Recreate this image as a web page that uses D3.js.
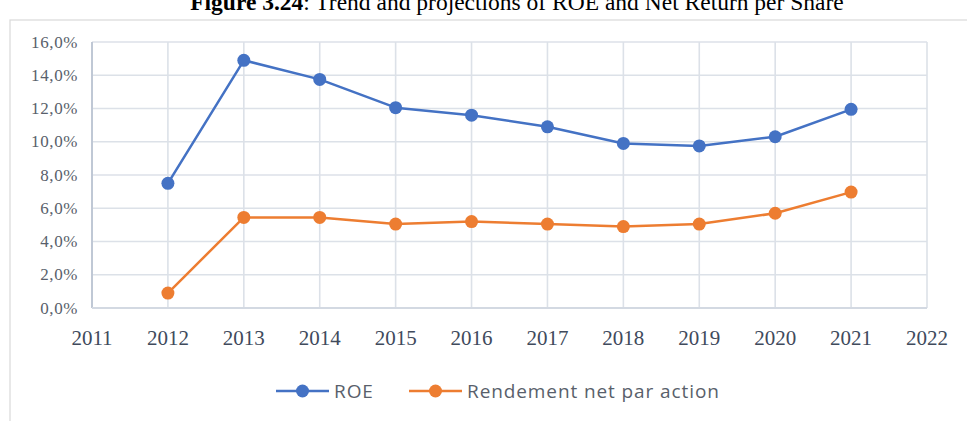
<!DOCTYPE html>
<html>
<head>
<meta charset="utf-8">
<script src="https://cdn.jsdelivr.net/npm/d3@7"></script>
<style>
  body { margin: 0; background: #fff; }
  svg { display: block; }
</style>
</head>
<body>
<script>
// data
var years = [2012, 2013, 2014, 2015, 2016, 2017, 2018, 2019, 2020, 2021];
var roe = [7.5, 14.9, 13.75, 12.05, 11.6, 10.9, 9.9, 9.75, 10.3, 11.95];
var rendement = [0.9, 5.45, 5.45, 5.05, 5.2, 5.05, 4.9, 5.05, 5.7, 6.97];
var yTicks = [0, 2, 4, 6, 8, 10, 12, 14, 16];
var xTicks = [2011, 2012, 2013, 2014, 2015, 2016, 2017, 2018, 2019, 2020, 2021, 2022];
var seriesNames = ["ROE", "Rendement net par action"];

var width = 967, height = 421;
var blue = "#4472C4", orange = "#ED7D31";

var svg = d3.select("body").append("svg")
  .attr("width", width).attr("height", height);

// title, cut off at the top of the picture like in the source
var title = svg.append("text")
  .attr("x", 517).attr("y", 10)
  .attr("text-anchor", "middle")
  .style("font-family", "'Liberation Serif', 'Times New Roman', serif")
  .style("font-size", "23.5px")
  .style("fill", "#000");
title.append("tspan").style("font-weight", "bold").text("Figure 3.24");
title.append("tspan").text(": Trend and projections of ROE and Net Return per Share");

// chart frame
svg.append("rect")
  .attr("x", 10).attr("y", 20)
  .attr("width", 980).attr("height", 420)
  .attr("fill", "none")
  .attr("stroke", "#D9D9D9").attr("stroke-width", 1.2);

var x = d3.scaleLinear().domain([2011, 2022]).range([92, 927]);
var y = d3.scaleLinear().domain([0, 16]).range([308, 42]);

var g = svg.append("g");

// gridlines
g.selectAll(".hgrid").data(yTicks).enter().append("line")
  .attr("x1", x(2011)).attr("x2", x(2022))
  .attr("y1", function(d){ return y(d); }).attr("y2", function(d){ return y(d); })
  .attr("stroke", "#DCE1E8").attr("stroke-width", 1.6);
g.selectAll(".vgrid").data(xTicks).enter().append("line")
  .attr("x1", function(d){ return x(d); }).attr("x2", function(d){ return x(d); })
  .attr("y1", y(16)).attr("y2", y(0))
  .attr("stroke", "#DCE1E8").attr("stroke-width", 1.6);

// axes lines
g.append("line").attr("x1", x(2011)).attr("x2", x(2011)).attr("y1", y(16)).attr("y2", y(0))
  .attr("stroke", "#BCC5D3").attr("stroke-width", 1.8);
g.append("line").attr("x1", x(2011)).attr("x2", x(2022)).attr("y1", y(0)).attr("y2", y(0))
  .attr("stroke", "#D3D9E2").attr("stroke-width", 1.8);

// y tick labels
var fmt = function(d){ return d.toFixed(1).replace(".", ",") + "%"; };
g.selectAll(".ylab").data(yTicks).enter().append("text")
  .attr("x", 78).attr("y", function(d){ return y(d) + 5.5; })
  .attr("text-anchor", "end")
  .style("font-family", "'Liberation Serif', 'DejaVu Serif', serif")
  .style("font-size", "17px")
  .style("letter-spacing", "0.6px")
  .style("fill", "#595F6B")
  .text(fmt);

// x tick labels
g.selectAll(".xlab").data(xTicks).enter().append("text")
  .attr("x", function(d){ return x(d); }).attr("y", 345)
  .attr("text-anchor", "middle")
  .style("font-family", "'Liberation Serif', 'DejaVu Serif', serif")
  .style("font-size", "21px")
  .style("fill", "#404A5C")
  .text(function(d){ return d; });

// series
var series = [
  { name: seriesNames[0], values: roe, color: blue },
  { name: seriesNames[1], values: rendement, color: orange }
];

var line = d3.line()
  .x(function(d, i){ return x(years[i]); })
  .y(function(d){ return y(d); });

series.forEach(function(s){
  g.append("path").datum(s.values)
    .attr("d", line)
    .attr("fill", "none")
    .attr("stroke", s.color).attr("stroke-width", 2.5)
    .attr("stroke-linejoin", "round");
  g.selectAll(null).data(s.values).enter().append("circle")
    .attr("cx", function(d, i){ return x(years[i]); })
    .attr("cy", function(d){ return y(d); })
    .attr("r", 6.5)
    .attr("fill", s.color);
});

// legend
var legendPos = [276, 409];
series.forEach(function(s, i){
  var lx = legendPos[i], ly = 391;
  svg.append("line").attr("x1", lx).attr("x2", lx + 53).attr("y1", ly).attr("y2", ly)
    .attr("stroke", s.color).attr("stroke-width", 2.5);
  svg.append("circle").attr("cx", lx + 26.5).attr("cy", ly).attr("r", 6.5).attr("fill", s.color);
  svg.append("text").attr("x", lx + 58).attr("y", ly + 6.5)
    .style("font-family", "'Open Sans', 'Noto Sans', sans-serif")
    .style("font-size", "19px")
    .style("letter-spacing", "0.9px")
    .style("fill", "#595F6B")
    .text(s.name);
});
</script>
</body>
</html>
